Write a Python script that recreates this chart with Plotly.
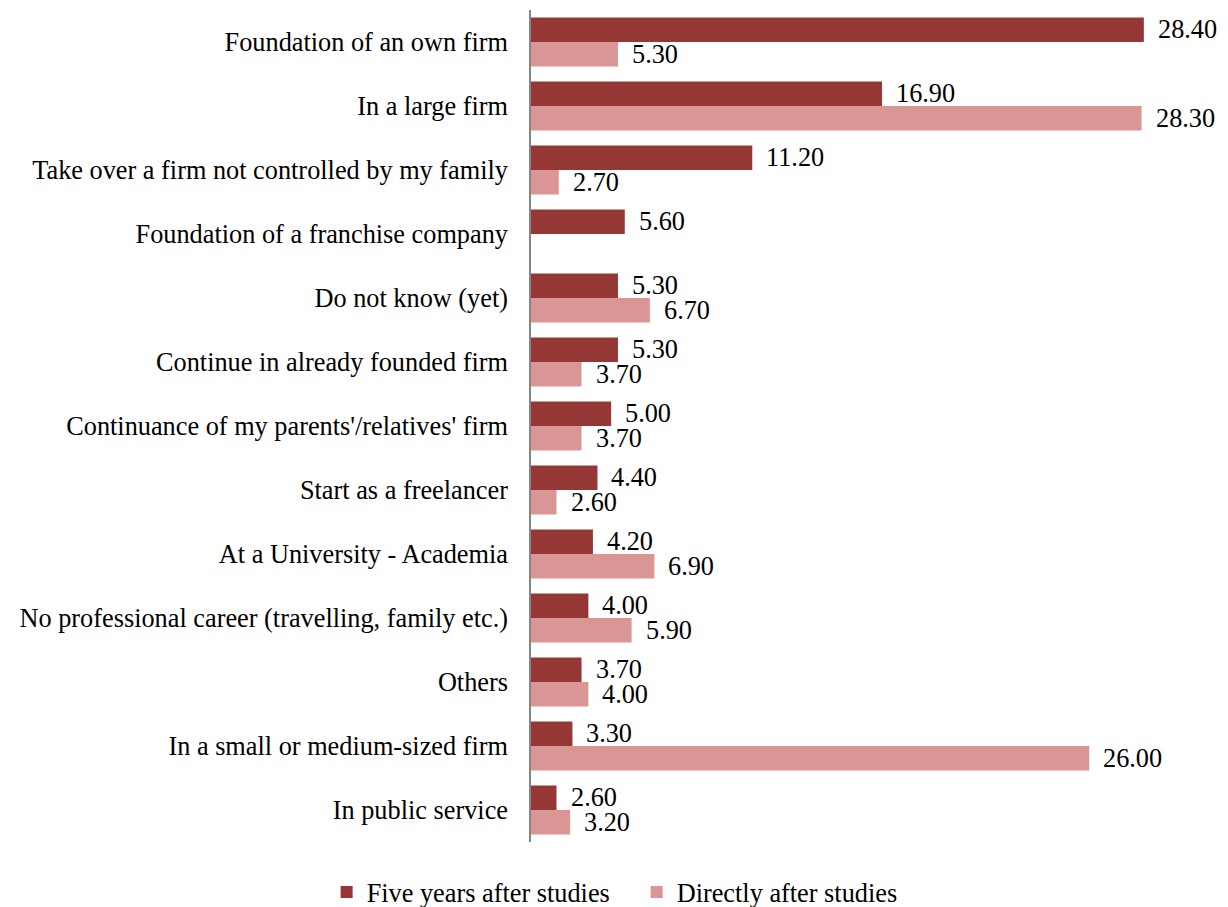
import plotly.graph_objects as go

categories = [
    "Foundation of an own firm",
    "In a large firm",
    "Take over a firm not controlled by my family",
    "Foundation of a franchise company",
    "Do not know (yet)",
    "Continue in already founded firm",
    "Continuance of my parents'/relatives' firm",
    "Start as a freelancer",
    "At a University - Academia",
    "No professional career (travelling, family etc.)",
    "Others",
    "In a small or medium-sized firm",
    "In public service",
]
five_years = [28.40, 16.90, 11.20, 5.60, 5.30, 5.30, 5.00, 4.40, 4.20, 4.00, 3.70, 3.30, 2.60]
directly = [5.30, 28.30, 2.70, None, 6.70, 3.70, 3.70, 2.60, 6.90, 5.90, 4.00, 26.00, 3.20]

dark = "#953735"
light = "#D99694"
font_family = "Liberation Serif"
font_size = 26.3

fig = go.Figure()
fig.add_trace(go.Bar(name="Five years after studies", y=categories, x=five_years,
                     orientation="h", marker=dict(color=dark, line=dict(width=0))))
fig.add_trace(go.Bar(name="Directly after studies", y=categories, x=directly,
                     orientation="h", marker=dict(color=light, line=dict(width=0))))

# value labels to the right of each bar end, centred on the bar
bar_shift = 12.3
for vals, shift in ((five_years, bar_shift), (directly, -bar_shift)):
    for cat, v in zip(categories, vals):
        if v is None:
            continue
        fig.add_annotation(x=v, y=cat, text=f"{v:.2f}", showarrow=False,
                           xanchor="left", yanchor="middle", xshift=12, yshift=shift,
                           font=dict(family=font_family, size=font_size, color="black"))

fig.update_layout(
    width=1228, height=907,
    margin=dict(l=531, r=50, t=10, b=65),
    paper_bgcolor="white", plot_bgcolor="white",
    barmode="group", bargap=0.235, bargroupgap=0,
    font=dict(family=font_family, size=font_size, color="black"),
    showlegend=True,
    legend=dict(orientation="h", xref="container", yref="container",
                x=0.266, y=0.016, xanchor="left", yanchor="middle",
                font=dict(family=font_family, size=font_size, color="black"),
                itemwidth=30, entrywidth=265, traceorder="normal"),
)
fig.update_xaxes(range=[1.48, 29.9], visible=False, showgrid=False, zeroline=False)
fig.update_yaxes(autorange="reversed", showline=True, linecolor="#868686", linewidth=1.5,
                 showgrid=False, ticks="", ticklabelstandoff=16,
                 tickfont=dict(family=font_family, size=font_size, color="black"))

fig.write_html("out.html")
